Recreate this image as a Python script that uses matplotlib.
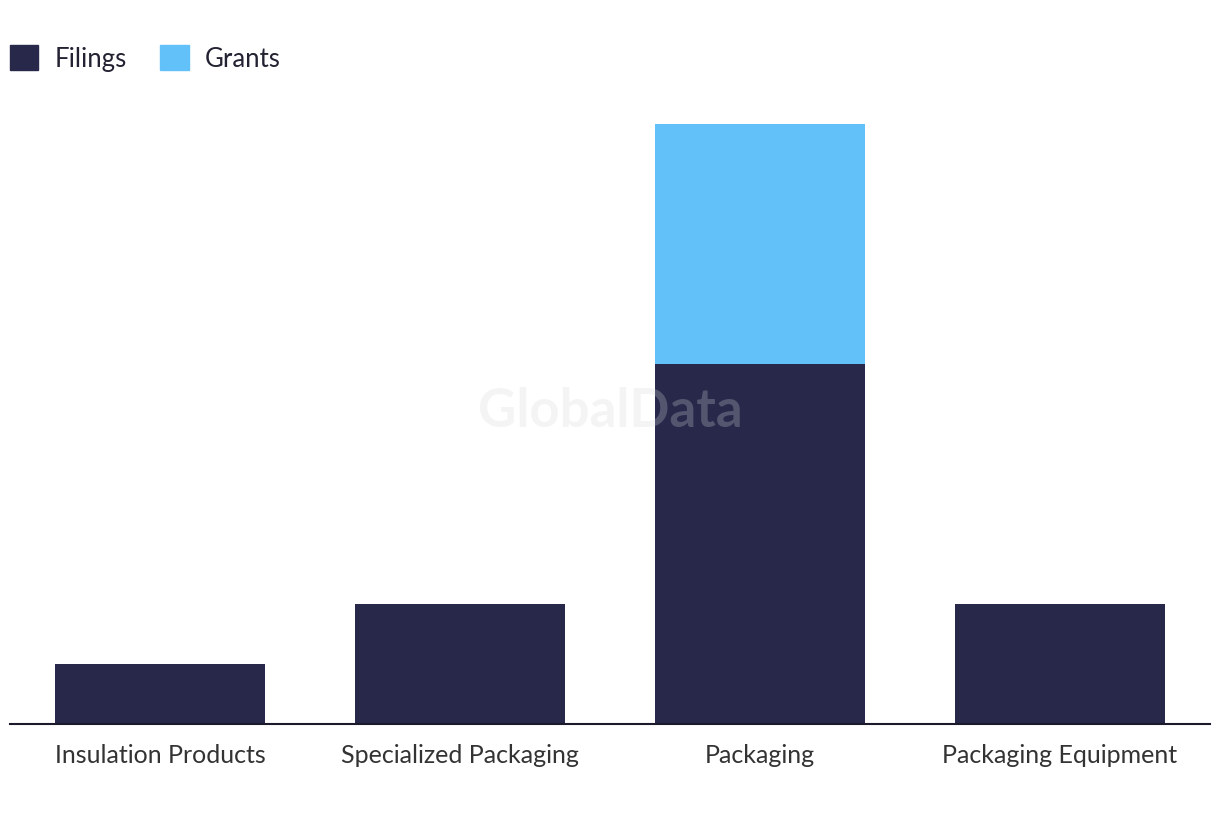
import matplotlib.pyplot as plt
from matplotlib.patches import Patch

plt.rcParams['font.family'] = ['Lato', 'DejaVu Sans']

categories = ['Insulation Products', 'Specialized Packaging', 'Packaging', 'Packaging Equipment']
filings = [1, 2, 6, 2]
grants = [0, 0, 4, 0]

navy = '#27284a'
sky = '#62c1f8'

fig = plt.figure(figsize=(12.2, 8.2), dpi=100)
ax = fig.add_axes([10 / 1220, 95 / 820, 1200 / 1220, 623 / 820])

x = range(len(categories))
ax.bar(x, filings, width=0.7, color=navy, label='Filings', zorder=2)
ax.bar(x, grants, width=0.7, bottom=filings, color=sky, label='Grants', zorder=2)

ax.set_xlim(-0.5, 3.5)
ax.set_ylim(0, 623 / 60)
ax.set_xticks(list(x))
ax.set_xticklabels(categories, fontsize=18, color='#333333')
ax.tick_params(axis='x', length=0, pad=14)
ax.set_yticks([])
for side in ['top', 'right', 'left']:
    ax.spines[side].set_visible(False)
ax.spines['bottom'].set_color('#1a1a2a')
ax.spines['bottom'].set_linewidth(1.5)

# watermark
fig.text(610 / 1220, 1 - 412 / 820, 'GlobalData', fontsize=38, fontweight='bold',
         color='#d7d7d7', alpha=0.26, ha='center', va='center', zorder=10)

handles = [Patch(color=navy, label='Filings'), Patch(color=sky, label='Grants')]
fig.legend(handles=handles, loc='upper left', bbox_to_anchor=(10 / 1220, 1 - 46 / 820),
           ncol=2, frameon=False, fontsize=18.5, handlelength=1.1, handleheight=1.1,
           handletextpad=0.64, columnspacing=1.3, borderaxespad=0.0, borderpad=0.0,
           labelcolor='#222233')

fig.savefig('out.png', dpi=100)
